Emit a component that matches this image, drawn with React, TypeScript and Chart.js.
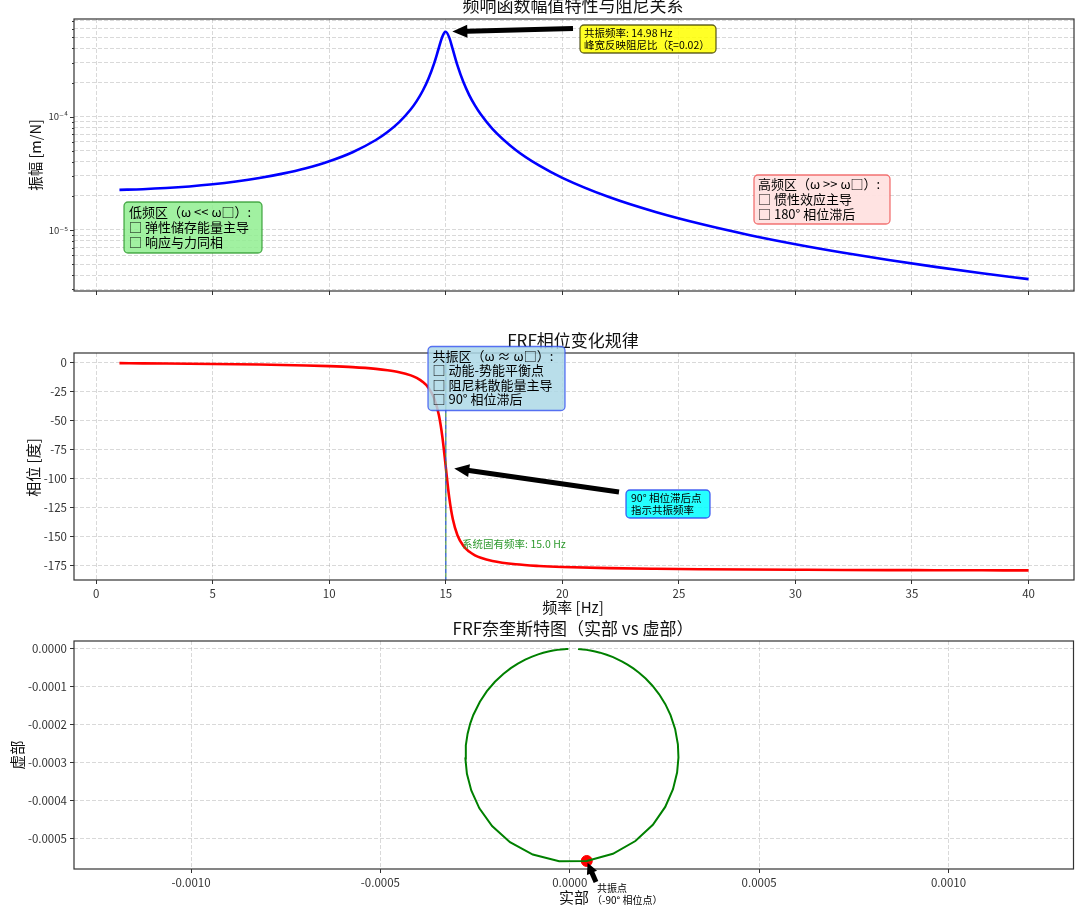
import React, { useEffect, useRef } from 'react';
import Chart from 'chart.js/auto';

// === Data ===
const FREQ_HZ = [1, 2, 3, 4, 5, 6, 7, 8, 9, 10, 11, 12, 12.5, 13, 13.5, 13.75, 14, 14.25, 14.5, 14.7, 14.85, 14.98, 15, 15.15, 15.3, 15.5, 15.75, 16, 16.25, 16.5, 17, 18, 19, 20, 22, 24, 26, 28, 30, 32, 34, 36, 38, 40];
const AMPLITUDE = [2.26e-5, 2.291e-5, 2.344e-5, 2.422e-5, 2.531e-5, 2.679e-5, 2.876e-5, 3.144e-5, 3.513e-5, 4.045e-5, 4.858e-5, 6.225e-5, 7.32e-5, 8.953e-5, 1.1635e-4, 1.373e-4, 1.6766e-4, 2.15e-4, 2.955e-4, 4.038e-4, 5.077e-4, 5.619e-4, 5.625e-4, 4.987e-4, 3.918e-4, 2.834e-4, 2.031e-4, 1.56e-4, 1.2574e-4, 1.0487e-4, 7.813e-5, 5.084e-5, 3.71e-5, 2.886e-5, 1.952e-5, 1.441e-5, 1.122e-5, 9.05e-6, 7.497e-6, 6.334e-6, 5.437e-6, 4.726e-6, 4.152e-6, 3.681e-6];
const PHASE_DEG = [-0.154, -0.311, -0.477, -0.658, -0.859, -1.091, -1.367, -1.707, -2.148, -2.748, -3.631, -5.08, -6.226, -7.93, -10.73, -12.93, -16.15, -21.29, -30.52, -44.71, -63.32, -86.18, -90, -116.45, -134.71, -148.63, -157.72, -162.8, -165.99, -168.17, -170.94, -173.77, -175.21, -176.08, -177.08, -177.65, -178.02, -178.28, -178.47, -178.62, -178.74, -178.84, -178.93, -179.0];

// Nyquist loop (real, imaginary), in order of frequency
const NYQ_REAL = [2.26e-5, 2.4219e-5, 2.8748e-5, 3.5107e-5, 4.3985e-5, 5.4282e-5, 6.6913e-5, 7.9882e-5, 9.7364e-5, 1.1432e-4, 1.3853e-4, 1.5243e-4, 1.6778e-4, 1.8285e-4, 2.0034e-4, 2.1833e-4, 2.3601e-4, 2.523e-4, 2.6605e-4, 2.7812e-4, 2.8545e-4, 2.8694e-4, 2.8335e-4, 2.7255e-4, 2.5202e-4, 2.194e-4, 1.732e-4, 1.1393e-4, 4.486e-5, -2.805e-5, -9.764e-5, -1.5783e-4, -2.0508e-4, -2.387e-4, -2.6007e-4, -2.7156e-4, -2.7561e-4, -2.7444e-4, -2.6977e-4, -2.6288e-4, -2.5469e-4, -2.3729e-4, -2.1885e-4, -1.9761e-4, -1.7555e-4, -1.5568e-4, -1.3706e-4, -1.1762e-4, -9.942e-5, -8.346e-5, -6.998e-5, -5.652e-5, -4.416e-5, -3.242e-5, -2.336e-5, -1.44e-5, -9.05e-6, -5.44e-6, -3.68e-6];
const NYQ_IMAG = [-6.05e-8, -2.78e-7, -6.86e-7, -1.316e-6, -2.415e-6, -4.038e-6, -6.563e-6, -9.787e-6, -1.5192e-5, -2.166e-5, -3.319e-5, -4.116e-5, -5.125e-5, -6.265e-5, -7.808e-5, -9.701e-5, -1.1967e-4, -1.4584e-4, -1.7466e-4, -2.1112e-4, -2.5171e-4, -2.8665e-4, -3.2629e-4, -3.7023e-4, -4.1706e-4, -4.6415e-4, -5.072e-4, -5.4087e-4, -5.5981e-4, -5.6054e-4, -5.4291e-4, -5.1021e-4, -4.6766e-4, -4.2073e-4, -3.7375e-4, -3.2954e-4, -2.8953e-4, -2.5424e-4, -2.2356e-4, -1.9712e-4, -1.7442e-4, -1.3923e-4, -1.1157e-4, -8.662e-5, -6.594e-5, -5.067e-5, -3.87e-5, -2.827e-5, -2.019e-5, -1.432e-5, -1.019e-5, -6.8e-6, -4.29e-6, -2.44e-6, -1.36e-6, -5.9e-7, -2.7e-7, -1.2e-7, -6.4e-8];

const PEAK = { freq: 14.98, amp: 5.619e-4 };
const RESONANCE = { freq: 15, phase: -90 };
const RESONANCE_POINT = { re: 4.486e-5, im: -5.5981e-4 };

// === Axis ticks ===
const FREQ_TICKS = [0, 5, 10, 15, 20, 25, 30, 35, 40];
const AMP_TICKS = [3e-6, 4e-6, 5e-6, 6e-6, 7e-6, 8e-6, 9e-6, 1e-5, 2e-5, 3e-5, 4e-5, 5e-5, 6e-5, 7e-5, 8e-5, 9e-5, 1e-4, 2e-4, 3e-4, 4e-4, 5e-4, 6e-4, 7e-4];
const AMP_LABELS: Record<string, string> = { '0.00001': '10⁻⁵', '0.0001': '10⁻⁴' };
const PHASE_TICKS = [0, -25, -50, -75, -100, -125, -150, -175];
const NYQ_X_TICKS = [-0.001, -0.0005, 0, 0.0005, 0.001];
const NYQ_Y_TICKS = [0, -0.0001, -0.0002, -0.0003, -0.0004, -0.0005];

// === Styling ===
const FONT = '"Noto Sans CJK SC", "DejaVu Sans", sans-serif';
const GRID = 'rgba(160,160,160,0.5)';
const DASH = [4, 2];

const grid = (drawTicks = true) => ({
  color: GRID,
  lineWidth: 0.8,
  borderDash: DASH,
  dash: DASH,
  drawTicks,
  tickLength: 4,
  tickColor: '#333',
  tickWidth: 1,
  tickBorderDash: [],
});
const border = { display: false, dash: DASH };
const tickFont = { family: FONT, size: 11.5 };

const fixTicks = (values: number[]) => (scale: any) => {
  scale.ticks = values.map(value => ({ value }));
};

// === Canvas helpers ===
function text(ctx: CanvasRenderingContext2D, s: string, x: number, y: number, size: number, align: CanvasTextAlign = 'center', color = '#111', rotate = false) {
  ctx.save();
  ctx.font = `${size}px ${FONT}`;
  ctx.fillStyle = color;
  ctx.textAlign = align;
  ctx.textBaseline = 'middle';
  ctx.translate(x, y);
  if (rotate) ctx.rotate(-Math.PI / 2);
  ctx.fillText(s, 0, 0);
  ctx.restore();
}

function box(ctx: CanvasRenderingContext2D, x: number, y: number, w: number, h: number, lines: string[], o: { size: number; lh: number; padX: number; padY: number; bg: string; edge: string }) {
  const r = 4;
  ctx.save();
  ctx.beginPath();
  ctx.moveTo(x + r, y);
  ctx.arcTo(x + w, y, x + w, y + h, r);
  ctx.arcTo(x + w, y + h, x, y + h, r);
  ctx.arcTo(x, y + h, x, y, r);
  ctx.arcTo(x, y, x + w, y, r);
  ctx.closePath();
  ctx.fillStyle = o.bg;
  ctx.fill();
  ctx.strokeStyle = o.edge;
  ctx.lineWidth = 1.3;
  ctx.stroke();
  ctx.restore();
  lines.forEach((s, i) => text(ctx, s, x + o.padX, y + o.padY + o.lh * (i + 0.5), o.size, 'left', '#000'));
}

function arrow(ctx: CanvasRenderingContext2D, x1: number, y1: number, x2: number, y2: number, headL = 14, headW = 13, shaft = 5) {
  const len = Math.hypot(x2 - x1, y2 - y1);
  const ux = (x2 - x1) / len, uy = (y2 - y1) / len;
  const nx = -uy, ny = ux;
  const bx = x2 - ux * headL, by = y2 - uy * headL;
  ctx.save();
  ctx.fillStyle = '#000';
  ctx.beginPath();
  ctx.moveTo(x1 + nx * shaft / 2, y1 + ny * shaft / 2);
  ctx.lineTo(bx + nx * shaft / 2, by + ny * shaft / 2);
  ctx.lineTo(bx + nx * headW / 2, by + ny * headW / 2);
  ctx.lineTo(x2, y2);
  ctx.lineTo(bx - nx * headW / 2, by - ny * headW / 2);
  ctx.lineTo(bx - nx * shaft / 2, by - ny * shaft / 2);
  ctx.lineTo(x1 - nx * shaft / 2, y1 - ny * shaft / 2);
  ctx.closePath();
  ctx.fill();
  ctx.restore();
}

// arrow from tail towards a data point, shrunk a little at the tip (like matplotlib's shrink)
function annotateArrow(ctx: CanvasRenderingContext2D, tx: number, ty: number, px: number, py: number, shrink: number, headL?: number, headW?: number) {
  const len = Math.hypot(px - tx, py - ty);
  const ux = (px - tx) / len, uy = (py - ty) / len;
  arrow(ctx, tx, ty, px - ux * shrink, py - uy * shrink, headL, headW);
}

function frame(chart: Chart) {
  const { left, top, right, bottom } = chart.chartArea;
  const ctx = chart.ctx;
  ctx.save();
  ctx.strokeStyle = '#333';
  ctx.lineWidth = 1.2;
  ctx.strokeRect(left, top, right - left, bottom - top);
  ctx.restore();
}

const baseOptions = (padTop: number) => ({
  animation: false as const,
  responsive: false,
  maintainAspectRatio: false,
  layout: { padding: { left: 0, right: 6, top: padTop, bottom: 0 } },
  plugins: { legend: { display: false }, tooltip: { enabled: false }, title: { display: false } },
  elements: { point: { radius: 0 } },
});

// === Top: amplitude ===
function amplitudeConfig(): any {
  return {
    type: 'line',
    data: {
      datasets: [{
        data: FREQ_HZ.map((f, i) => ({ x: f, y: AMPLITUDE[i] })),
        borderColor: '#0000ff',
        borderWidth: 2.6,
        pointRadius: 0,
        cubicInterpolationMode: 'monotone',
        fill: false,
      }],
    },
    options: {
      ...baseOptions(19),
      scales: {
        x: {
          type: 'linear', min: -0.95, max: 41.95,
          afterBuildTicks: fixTicks(FREQ_TICKS),
          ticks: { display: false, autoSkip: false },
          grid: grid(true), border,
          afterFit: (s: any) => { s.height = 19; },
        },
        y: {
          type: 'logarithmic', min: 2.894e-6, max: 7.28e-4,
          afterBuildTicks: fixTicks(AMP_TICKS),
          ticks: { autoSkip: false, font: { family: FONT, size: 9.5 }, color: '#333', padding: 6, callback: (v: number) => AMP_LABELS[String(v)] ?? '' },
          grid: grid(false), border,
          afterFit: (s: any) => { s.width = 74; },
        },
      },
    },
    plugins: [{
      id: 'ampOverlay',
      afterDraw(chart: Chart) {
        const ctx = chart.ctx;
        const { left } = chart.chartArea;
        const xs = chart.scales.x, ys = chart.scales.y;
        ctx.save();
        ctx.strokeStyle = '#333';
        ctx.lineWidth = 1;
        AMP_TICKS.forEach(v => {
          const y = Math.round(ys.getPixelForValue(v)) + 0.5;
          const l = AMP_LABELS[String(v)] ? 4 : 2;
          ctx.beginPath(); ctx.moveTo(left - l, y); ctx.lineTo(left, y); ctx.stroke();
        });
        ctx.restore();
        frame(chart);
        text(ctx, '频响函数幅值特性与阻尼关系', 573, 6, 17);
        text(ctx, '振幅 [m/N]', 35, 155, 14.5, 'center', '#111', true);
        annotateArrow(ctx, 573, 28.5, xs.getPixelForValue(PEAK.freq), ys.getPixelForValue(PEAK.amp), 7, 15, 13);
        box(ctx, 580, 25, 136, 28, ['共振频率: 14.98 Hz', '峰宽反映阻尼比（ξ=0.02）'], { size: 10.5, lh: 11.7, padX: 4, padY: 2.5, bg: 'rgba(255,255,0,0.85)', edge: 'rgba(60,60,0,0.8)' });
        box(ctx, 124, 202, 138, 51, ['低频区（ω << ω□）:', '□ 弹性储存能量主导', '□ 响应与力同相'], { size: 13, lh: 15, padX: 5, padY: 2.5, bg: 'rgba(144,238,144,0.85)', edge: 'rgba(40,150,40,0.8)' });
        box(ctx, 754, 175, 136, 49, ['高频区（ω >> ω□）:', '□ 惯性效应主导', '□ 180° 相位滞后'], { size: 13, lh: 15, padX: 4, padY: 1.5, bg: 'rgba(255,226,224,0.95)', edge: 'rgba(240,90,90,0.85)' });
      },
    }],
  };
}

// === Middle: phase ===
function phaseConfig(): any {
  return {
    type: 'line',
    data: {
      datasets: [{
        data: FREQ_HZ.map((f, i) => ({ x: f, y: PHASE_DEG[i] })),
        borderColor: '#ff0000',
        borderWidth: 2.6,
        pointRadius: 0,
        cubicInterpolationMode: 'monotone',
        fill: false,
      }],
    },
    options: {
      ...baseOptions(43),
      scales: {
        x: {
          type: 'linear', min: -0.95, max: 41.95,
          afterBuildTicks: fixTicks(FREQ_TICKS),
          ticks: { autoSkip: false, maxRotation: 0, font: tickFont, color: '#333', padding: 3, callback: (v: number) => String(v) },
          grid: grid(true), border,
          afterFit: (s: any) => { s.height = 40; },
        },
        y: {
          type: 'linear', min: -187.3, max: 8.6,
          afterBuildTicks: fixTicks(PHASE_TICKS),
          ticks: { autoSkip: false, font: tickFont, color: '#333', padding: 3, callback: (v: number) => String(v) },
          grid: grid(true), border,
          afterFit: (s: any) => { s.width = 74; },
        },
      },
    },
    plugins: [{
      id: 'phaseOverlay',
      afterDraw(chart: Chart) {
        const ctx = chart.ctx;
        const { top, bottom } = chart.chartArea;
        const xs = chart.scales.x, ys = chart.scales.y;
        const xr = xs.getPixelForValue(RESONANCE.freq);
        // natural-frequency marker line
        ctx.save();
        ctx.lineWidth = 1.5;
        ctx.setLineDash([4, 4]);
        ctx.strokeStyle = 'rgba(40,90,200,0.85)';
        ctx.beginPath(); ctx.moveTo(xr, top); ctx.lineTo(xr, bottom); ctx.stroke();
        ctx.lineDashOffset = 4;
        ctx.strokeStyle = 'rgba(60,140,60,0.75)';
        ctx.beginPath(); ctx.moveTo(xr, top); ctx.lineTo(xr, bottom); ctx.stroke();
        ctx.restore();
        frame(chart);
        text(ctx, 'FRF相位变化规律', 573, 31, 17);
        text(ctx, '相位 [度]', 33, 157.5, 15, 'center', '#111', true);
        text(ctx, '频率 [Hz]', 573, 297, 15);
        text(ctx, '系统固有频率: 15.0 Hz', xs.getPixelForValue(15.7), ys.getPixelForValue(-156.2), 10.5, 'left', '#2e9a2e');
        box(ctx, 428, 36.5, 137, 64, ['共振区（ω ≈ ω□）:', '□ 动能-势能平衡点', '□ 阻尼耗散能量主导', '□ 90° 相位滞后'], { size: 13, lh: 14.5, padX: 4.5, padY: 2, bg: 'rgba(173,216,230,0.85)', edge: 'rgba(40,70,240,0.75)' });
        annotateArrow(ctx, 619, 182, xr, ys.getPixelForValue(RESONANCE.phase), 8.5, 15, 13);
        box(ctx, 626, 180, 84, 28, ['90° 相位滞后点', '指示共振频率'], { size: 10.5, lh: 11.7, padX: 5, padY: 2.5, bg: 'rgba(0,255,255,0.85)', edge: 'rgba(40,70,240,0.85)' });
      },
    }],
  };
}

// === Bottom: Nyquist ===
function nyquistConfig(): any {
  return {
    type: 'scatter',
    data: {
      datasets: [
        {
          data: NYQ_REAL.map((re, i) => ({ x: re, y: NYQ_IMAG[i] })),
          showLine: true,
          borderColor: '#008000',
          borderWidth: 2,
          pointRadius: 0,
          tension: 0,
        },
        {
          data: [{ x: RESONANCE_POINT.re, y: RESONANCE_POINT.im }],
          pointRadius: 5.5,
          backgroundColor: '#ff0000',
          borderColor: '#ff0000',
        },
      ],
    },
    options: {
      ...baseOptions(21),
      scales: {
        x: {
          type: 'linear', min: -1.309e-3, max: 1.33e-3,
          afterBuildTicks: fixTicks(NYQ_X_TICKS),
          ticks: { autoSkip: false, maxRotation: 0, font: tickFont, color: '#333', padding: 3, callback: (v: number) => (v === 0 ? '0.0000' : v.toFixed(4)) },
          grid: grid(true), border,
          afterFit: (s: any) => { s.height = 38; },
        },
        y: {
          type: 'linear', min: -5.81e-4, max: 2.1e-5,
          afterBuildTicks: fixTicks(NYQ_Y_TICKS),
          ticks: { autoSkip: false, font: tickFont, color: '#333', padding: 3, callback: (v: number) => (v === 0 ? '0.0000' : v.toFixed(4)) },
          grid: grid(true), border,
          afterFit: (s: any) => { s.width = 74; },
        },
      },
    },
    plugins: [{
      id: 'nyqOverlay',
      afterDraw(chart: Chart) {
        const ctx = chart.ctx;
        const xs = chart.scales.x, ys = chart.scales.y;
        frame(chart);
        text(ctx, 'FRF奈奎斯特图（实部 vs 虚部）', 573, 9, 17);
        text(ctx, '实部', 574, 277.5, 15);
        text(ctx, '虚部', 17, 135, 14.5, 'center', '#111', true);
        annotateArrow(ctx, 596, 262, xs.getPixelForValue(RESONANCE_POINT.re), ys.getPixelForValue(RESONANCE_POINT.im), 2, 11, 11);
        text(ctx, '共振点', 597, 268.5, 10, 'left', '#000');
        text(ctx, '（-90° 相位点）', 592, 280, 10, 'left', '#000');
      },
    }],
  };
}

// === Chart panel ===
function Panel({ top, height, build }: { top: number; height: number; build: () => any }) {
  const ref = useRef<HTMLCanvasElement>(null);
  useEffect(() => {
    if (!ref.current) return;
    const chart = new Chart(ref.current, build());
    return () => chart.destroy();
  }, [build]);
  return (
    <div style={{ position: 'absolute', left: 0, top, width: 1080, height }}>
      <canvas ref={ref} width={1080} height={height} style={{ display: 'block', width: 1080, height }} />
    </div>
  );
}

export default function App() {
  return (
    <div style={{ position: 'fixed', left: 0, top: 0, width: 1080, height: 907, background: '#fff', overflow: 'hidden' }}>
      <Panel top={0} height={310} build={amplitudeConfig} />
      <Panel top={310} height={310} build={phaseConfig} />
      <Panel top={620} height={287} build={nyquistConfig} />
    </div>
  );
}
